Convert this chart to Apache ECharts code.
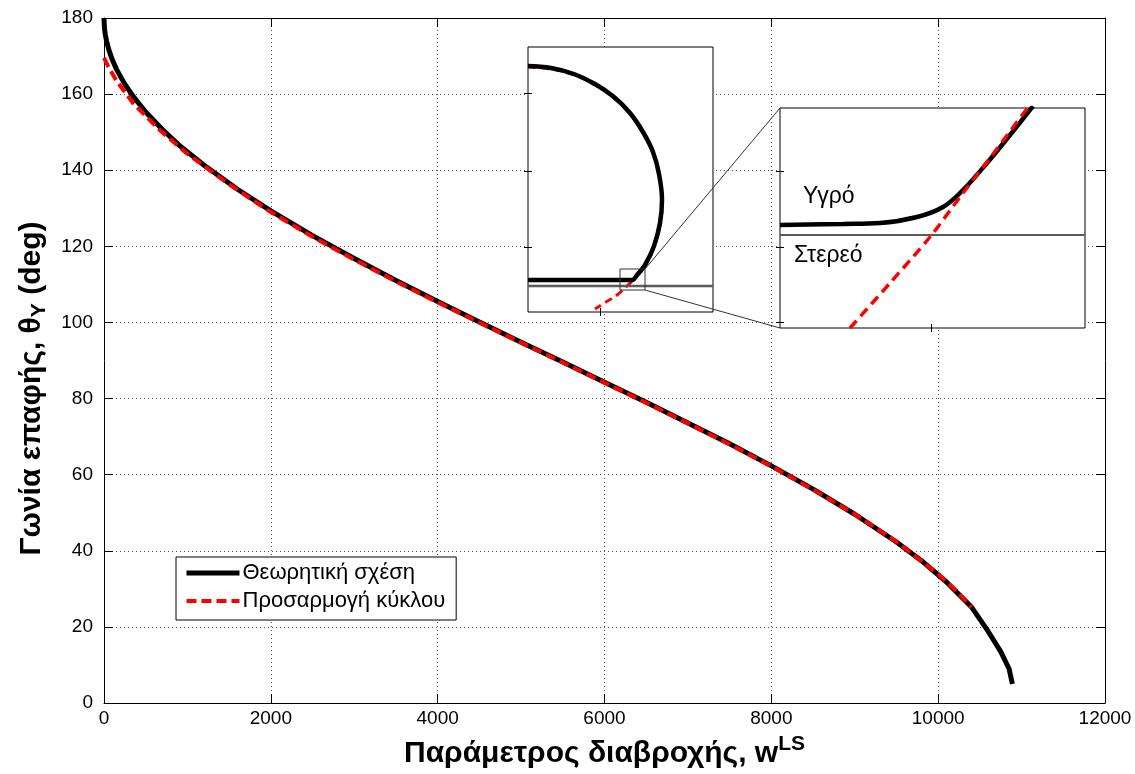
<!DOCTYPE html>
<html lang="el">
<head>
<meta charset="UTF-8">
<title>Γωνία επαφής</title>
<script src="https://cdn.jsdelivr.net/npm/echarts@6/dist/echarts.min.js"></script>
<style>
  html, body { margin: 0; padding: 0; background: #fff; }
  #main { width: 1135px; height: 774px; }
</style>
</head>
<body>
<div id="main"></div>
<script>
// --- main plot: contact angle vs wetting parameter
var wTheory = [0, 5, 15, 30, 60, 100, 150, 250, 350, 500, 700, 900, 1200, 1600, 2000, 2500,
  3000, 3500, 4000, 4500, 5000, 5500, 6000, 6500, 7000, 7500, 8000, 8500, 9000, 9500,
  9800, 10100, 10400, 10600, 10750, 10850, 10890];
var thetaTheory = [180, 177.5, 175.7, 174, 171.5, 169, 166.5, 162.6, 159.4, 155.3, 150.7, 146.6,
  141.3, 135, 129.3, 122.8, 116.8, 111, 105.5, 100.1, 94.8, 89.6, 84.3, 79, 73.6, 68.1,
  62.3, 56.2, 49.6, 42.3, 37.4, 31.8, 25.2, 18.8, 13.5, 9, 5];

var wFit = [0, 50, 150, 350, 670, 1000, 1500, 2000, 2500, 3000, 3500, 4000, 4500, 5000,
  5500, 6000, 6500, 7000, 7500, 8000, 8500, 9000, 9500, 10000, 10200, 10400];
var thetaFit = [169.5, 167.3, 163.5, 157.6, 150.5, 144.3, 136.3, 129, 122.5, 116.5, 110.8,
  105.3, 100, 94.7, 89.5, 84.2, 78.9, 73.5, 68, 62.2, 56.1, 49.6, 42.4, 33.9, 29.8, 25.2];

// --- inset 1: drop profile (inset units, y up)
var dropX = [0, 23, 46, 67, 86, 102, 115, 125, 131, 134, 132, 126, 117, 109, 104, 60, 0];
var dropY = [246, 244, 238, 228, 215, 199, 180, 160, 138, 112, 89, 66, 47, 37, 32, 32, 32];
var dropFitX = [0, 23, 46, 67, 86, 102, 115, 125, 131, 134, 132, 126, 117, 108, 100, 89, 78, 67];
var dropFitY = [245, 243, 237, 227, 214, 198, 179, 159, 137, 111, 88, 65, 46, 35, 27, 17, 10, 3];
var solid1X = [0, 185];
var solid1Y = [26, 26];

// --- inset 2: zoom on the contact line
var zoomX = [0, 63, 100, 137, 163, 183, 207, 230, 253];
var zoomY = [103, 104, 105, 111, 121, 138, 165, 193, 222];
var zoomFitX = [70, 110, 150, 180, 210, 249];
var zoomFitY = [0, 45, 91, 131, 170, 222];
var solid2X = [0, 305];
var solid2Y = [93, 93];

var xTicks = [0, 2000, 4000, 6000, 8000, 10000, 12000];
var yTicks = [0, 20, 40, 60, 80, 100, 120, 140, 160, 180];

function zip(a, b) {
  var out = [];
  for (var i = 0; i < a.length; i++) out.push([a[i], b[i]]);
  return out;
}

var FONT = 'Liberation Sans, Arial, sans-serif';
var frame = { show: true, onZero: false, lineStyle: { color: '#000', width: 1 } };
var tickIn = { show: true, inside: true, length: 9, lineStyle: { color: '#000' } };

function insetAxis(grid, pos, min, max, ticks) {
  return {
    type: 'value', gridIndex: grid, position: pos, min: min, max: max,
    axisLine: { show: false },
    axisTick: { show: true, inside: true, length: 4, customValues: ticks, lineStyle: { color: '#000' } },
    axisLabel: { show: false },
    splitLine: { show: false },
    z: 6
  };
}

var myChart = echarts.init(document.getElementById('main'), null, { renderer: 'canvas' });

var option = {
  animation: false,
  backgroundColor: '#fff',
  textStyle: { fontFamily: FONT },
  grid: [
    { left: 104, top: 18, width: 1001, height: 685 },
    { left: 528, top: 47, width: 185, height: 265, show: true, backgroundColor: '#fff',
      borderColor: '#000', borderWidth: 1, z: 5 },
    { left: 780, top: 108, width: 305, height: 220, show: true, backgroundColor: '#fff',
      borderColor: '#000', borderWidth: 1, z: 5 }
  ],
  xAxis: [
    {
      type: 'value', gridIndex: 0, position: 'bottom',
      min: xTicks[0], max: xTicks[xTicks.length - 1], interval: 2000,
      axisLine: frame, axisTick: tickIn,
      axisLabel: { color: '#000', fontSize: 19, fontFamily: FONT, margin: 6,
        formatter: function (v) { return String(v); } },
      splitLine: { show: true, lineStyle: { color: '#555', width: 1, type: [1, 3] } },
      name: '{t|Παράμετρος διαβροχής, w}{p|LS}',
      nameLocation: 'middle', nameGap: 31,
      nameTextStyle: {
        rich: {
          t: { fontSize: 30, fontWeight: 'bold', fontFamily: FONT, color: '#000', lineHeight: 40 },
          p: { fontSize: 21, fontWeight: 'bold', fontFamily: FONT, color: '#000', lineHeight: 12, verticalAlign: 'top' }
        }
      }
    },
    {
      type: 'value', gridIndex: 0, position: 'top',
      min: 0, max: 12000, interval: 2000,
      axisLine: frame, axisTick: tickIn,
      axisLabel: { show: false }, splitLine: { show: false }
    },
    insetAxis(1, 'bottom', 0, 185, [72]),
    insetAxis(1, 'top', 0, 185, [72]),
    insetAxis(2, 'bottom', 0, 305, [151]),
    insetAxis(2, 'top', 0, 305, [151])
  ],
  yAxis: [
    {
      type: 'value', gridIndex: 0, position: 'left',
      min: yTicks[0], max: yTicks[yTicks.length - 1], interval: 20,
      axisLine: frame, axisTick: tickIn,
      axisLabel: { color: '#000', fontSize: 19, fontFamily: FONT, margin: 11 },
      splitLine: { show: true, lineStyle: { color: '#555', width: 1, type: [1, 3] } },
      name: '{t|Γωνία επαφής, θ}{s|Y}{t| (deg)}',
      nameLocation: 'middle', nameGap: 54,
      nameTextStyle: {
        padding: [0, 56, 0, 0],
        rich: {
          t: { fontSize: 30, fontWeight: 'bold', fontFamily: FONT, color: '#000', lineHeight: 36 },
          s: { fontSize: 21, fontWeight: 'bold', fontFamily: FONT, color: '#000', lineHeight: 24, verticalAlign: 'bottom' }
        }
      }
    },
    {
      type: 'value', gridIndex: 0, position: 'right',
      min: 0, max: 180, interval: 20,
      axisLine: frame, axisTick: tickIn,
      axisLabel: { show: false }, splitLine: { show: false }
    },
    insetAxis(1, 'left', 0, 265, [65, 141, 219]),
    insetAxis(1, 'right', 0, 265, [65, 141, 219]),
    insetAxis(2, 'left', 0, 220, [6, 81, 157]),
    insetAxis(2, 'right', 0, 220, [6, 81, 157])
  ],
  legend: {
    data: [
      { name: 'Θεωρητική σχέση', lineStyle: { color: '#000', width: 5, type: 'solid' } },
      { name: 'Προσαρμογή κύκλου', lineStyle: { color: '#ff0000', width: 4, type: [10, 5] } }
    ],
    orient: 'vertical', left: 176, top: 557,
    padding: [5, 11, 8, 8],
    itemWidth: 53, itemHeight: 23, itemGap: 6,
    itemStyle: { opacity: 0, borderWidth: 0 },
    backgroundColor: '#fff', borderColor: '#000', borderWidth: 1,
    textStyle: { fontSize: 22, fontFamily: FONT, color: '#000', padding: [0, 0, 0, -2] },
    z: 10
  },
  series: [
    {
      name: 'Θεωρητική σχέση', type: 'line', xAxisIndex: 0, yAxisIndex: 0,
      data: zip(wTheory, thetaTheory), symbol: 'none',
      lineStyle: { color: '#000', width: 5, join: 'round' },
      itemStyle: { color: '#000' }
    },
    {
      name: 'Προσαρμογή κύκλου', type: 'line', xAxisIndex: 0, yAxisIndex: 0,
      data: zip(wFit, thetaFit), symbol: 'none',
      lineStyle: { color: '#ff0000', width: 4, type: [10, 5] },
      itemStyle: { color: '#ff0000' }
    },
    // inset 1
    {
      name: 'fit1', type: 'line', xAxisIndex: 2, yAxisIndex: 2, z: 7,
      data: zip(dropFitX, dropFitY), symbol: 'none', smooth: 0.4,
      lineStyle: { color: '#ff0000', width: 3, type: [8, 5] }
    },
    {
      name: 'solid1', type: 'line', xAxisIndex: 2, yAxisIndex: 2, z: 7,
      data: zip(solid1X, solid1Y), symbol: 'none',
      lineStyle: { color: '#5a5a5a', width: 2.5 }
    },
    {
      name: 'drop1', type: 'line', xAxisIndex: 2, yAxisIndex: 2, z: 8,
      data: zip(dropX, dropY), symbol: 'none', smooth: 0.4,
      lineStyle: { color: '#000', width: 4.5 }
    },
    // inset 2
    {
      name: 'solid2', type: 'line', xAxisIndex: 4, yAxisIndex: 4, z: 7,
      data: zip(solid2X, solid2Y), symbol: 'none',
      lineStyle: { color: '#5a5a5a', width: 2 }
    },
    {
      name: 'drop2', type: 'line', xAxisIndex: 4, yAxisIndex: 4, z: 7,
      data: zip(zoomX, zoomY), symbol: 'none', smooth: 0.4,
      lineStyle: { color: '#000', width: 4.5 }
    },
    {
      name: 'fit2', type: 'line', xAxisIndex: 4, yAxisIndex: 4, z: 8,
      data: zip(zoomFitX, zoomFitY), symbol: 'none', smooth: 0.3,
      lineStyle: { color: '#ff0000', width: 3.5, type: [10, 6] }
    }
  ],
  graphic: [
    { type: 'rect', z: 20, shape: { x: 620, y: 269, width: 25, height: 21 },
      style: { fill: 'none', stroke: '#333', lineWidth: 1 } },
    { type: 'line', z: 20, shape: { x1: 645, y1: 269, x2: 780, y2: 108 },
      style: { stroke: '#333', lineWidth: 1 } },
    { type: 'line', z: 20, shape: { x1: 645, y1: 290, x2: 780, y2: 328 },
      style: { stroke: '#333', lineWidth: 1 } },
    { type: 'text', z: 20, left: 803, top: 185,
      style: { text: 'Υγρό', fontSize: 23, fontFamily: FONT, fill: '#000' } },
    { type: 'text', z: 20, left: 794, top: 244,
      style: { text: 'Στερεό', fontSize: 23, fontFamily: FONT, fill: '#000' } }
  ]
};

myChart.setOption(option);
</script>
</body>
</html>
